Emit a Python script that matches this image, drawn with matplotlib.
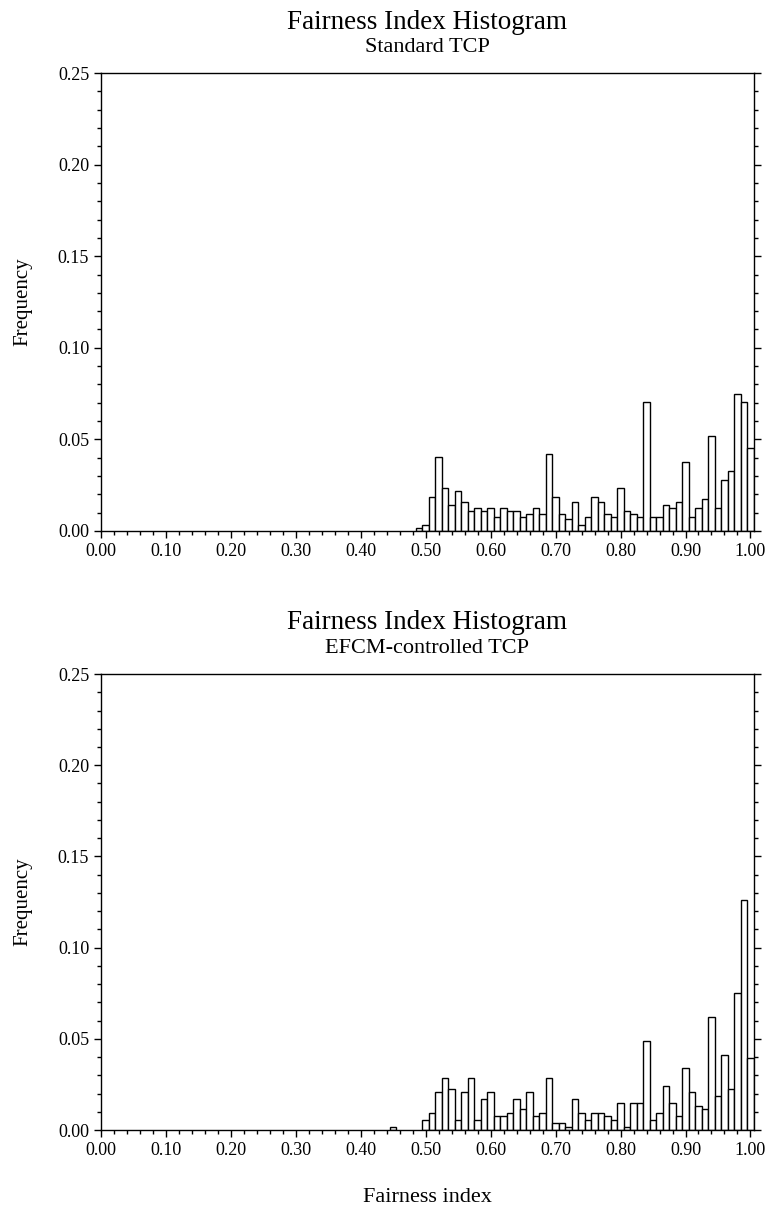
import numpy as np
import matplotlib
matplotlib.use("Agg")
import matplotlib.pyplot as plt
from matplotlib.ticker import MultipleLocator, FormatStrFormatter

plt.rcParams['font.family'] = ['Liberation Serif', 'DejaVu Serif']

# bin centres (width 0.01) and frequencies
bins_std = np.round(np.arange(49, 101) / 100.0, 2)
freq_std = [0.0016, 0.0031, 0.0188, 0.0406, 0.0234, 0.0141, 0.0219, 0.0156,
            0.0109, 0.0125, 0.0109, 0.0125, 0.0078, 0.0125, 0.0109, 0.0109,
            0.0078, 0.0094, 0.0125, 0.0094, 0.0422, 0.0188, 0.0094, 0.0063,
            0.0156, 0.0031, 0.0078, 0.0188, 0.0156, 0.0094, 0.0078, 0.0234,
            0.0109, 0.0094, 0.0078, 0.0703, 0.0078, 0.0078, 0.0141, 0.0125,
            0.0156, 0.0375, 0.0078, 0.0125, 0.0172, 0.0516, 0.0125, 0.0281,
            0.0328, 0.0750, 0.0703, 0.0453]

bins_efcm = np.concatenate([[0.45], np.round(np.arange(50, 101) / 100.0, 2)])
freq_efcm = [0.0018,
             0.0055, 0.0093, 0.0207, 0.0283, 0.0227, 0.0055, 0.0207, 0.0283,
             0.0055, 0.0170, 0.0207, 0.0075, 0.0075, 0.0093, 0.0170, 0.0113,
             0.0207, 0.0075, 0.0093, 0.0283, 0.0037, 0.0037, 0.0018, 0.0170,
             0.0094, 0.0056, 0.0094, 0.0094, 0.0075, 0.0056, 0.0150, 0.0018,
             0.0150, 0.0150, 0.0489, 0.0056, 0.0094, 0.0244, 0.0150, 0.0075,
             0.0338, 0.0207, 0.0132, 0.0113, 0.0620, 0.0188, 0.0414, 0.0226,
             0.0751, 0.1263, 0.0395]

title = "Fairness Index Histogram"
subtitles = ["Standard TCP", "EFCM-controlled TCP"]

panels = [
    (bins_std, freq_std, [0.1313, 0.5608, 0.8488, 0.3788], 0.9810, 0.9603),
    (bins_efcm, freq_efcm, [0.1313, 0.0653, 0.8488, 0.3772], 0.4847, 0.4640),
]

fig = plt.figure(figsize=(7.69, 12.09), dpi=100)

for i, (b, fr, rect, ty, sy) in enumerate(panels):
    ax = fig.add_axes(rect)
    ax.bar(b, fr, width=0.01, color='white', edgecolor='black', linewidth=1.0)
    ax.set_xlim(0, 1.005)
    ax.set_ylim(0, 0.25)
    ax.xaxis.set_major_locator(MultipleLocator(0.1))
    ax.xaxis.set_minor_locator(MultipleLocator(0.02))
    ax.yaxis.set_major_locator(MultipleLocator(0.05))
    ax.yaxis.set_minor_locator(MultipleLocator(0.01))
    ax.xaxis.set_major_formatter(FormatStrFormatter('%.2f'))
    ax.yaxis.set_major_formatter(FormatStrFormatter('%.2f'))
    ax.tick_params(which='both', direction='out', left=True, right=True,
                   top=False, bottom=True, labelsize=13, width=1.0)
    ax.tick_params(which='major', length=5)
    ax.tick_params(which='minor', length=3)
    for s in ax.spines.values():
        s.set_linewidth(1.0)
    ax.set_ylabel("Frequency", fontsize=15, labelpad=18)
    cx = rect[0] + rect[2] / 2
    fig.text(cx, ty, title, ha='center', va='center', fontsize=19.5)
    fig.text(cx, sy, subtitles[i], ha='center', va='center', fontsize=16)

fig.text(0.1313 + 0.8488 / 2, 0.0095, "Fairness index", ha='center',
         va='center', fontsize=16)

fig.savefig("out.png", dpi=100)
